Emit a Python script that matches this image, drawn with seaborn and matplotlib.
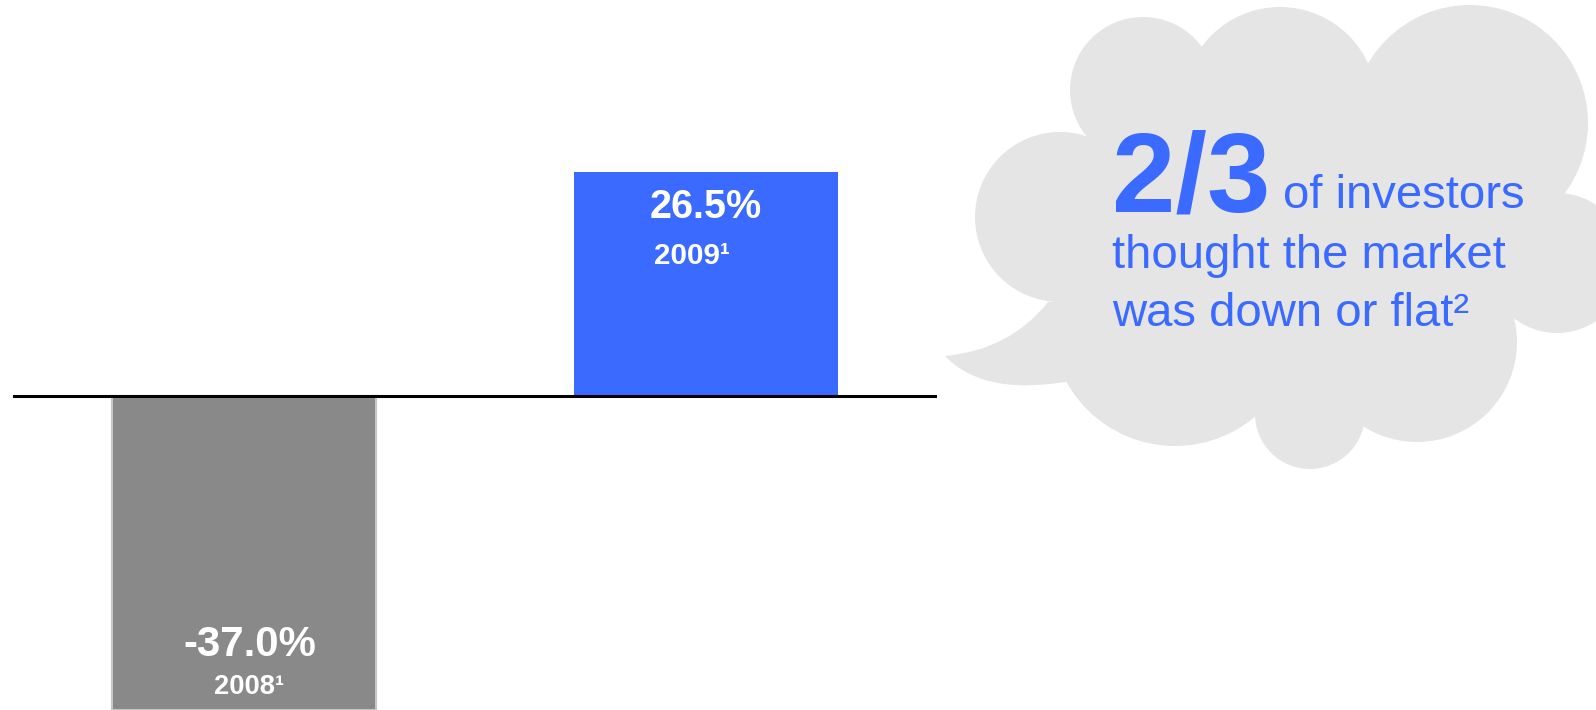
import numpy as np
import pandas as pd
import matplotlib
matplotlib.use("Agg")
import matplotlib.pyplot as plt
import seaborn as sns
from matplotlib import font_manager as fm
from matplotlib.patches import Circle, Polygon, PathPatch
from matplotlib.path import Path

# ---------------- data ----------------
years = ["2008", "2009"]
returns = [-37.0, 26.5]
value_labels = ["-37.0%", "26.5%"]
year_labels = ["2008\u00b9", "2009\u00b9"]
bar_colors = ["#898989", "#3A6AFF"]
callout_big = "2/3"
callout_lines = ["of investors", "thought the market", "was down or flat\u00b2"]


def available(name):
    try:
        fm.findfont(fm.FontProperties(family=name), fallback_to_default=False)
        return True
    except Exception:
        return False


HAS_NARROW = available("Liberation Sans Narrow")
NARROW = "Liberation Sans Narrow" if HAS_NARROW else "Liberation Sans"
NS = 1.0 if HAS_NARROW else 0.89
REG = "Liberation Sans" if available("Liberation Sans") else "DejaVu Sans"

sns.set_theme(style="white")
plt.rcParams["font.family"] = [REG, "DejaVu Sans"]

W, H = 1596, 710
fig = plt.figure(figsize=(W / 100, H / 100), dpi=100)
fig.patch.set_facecolor("white")

BLUE = bar_colors[1]

# ---------------- cloud callout (pixel coordinates overlay) ----------------
ax_c = fig.add_axes([0, 0, 1, 1], zorder=0)
ax_c.set_xlim(0, W)
ax_c.set_ylim(H, 0)
ax_c.axis("off")
cloud = "#E5E5E5"
bumps = [(1060, 217, 85), (1143, 90, 73), (1280, 104, 97), (1470, 123, 118),
         (1557, 263, 70), (1417, 342, 100), (1310, 414, 55), (1175, 322, 124)]
for cx, cy, r in bumps:
    ax_c.add_patch(Circle((cx, cy), r, fc=cloud, ec="none"))
ax_c.add_patch(Polygon([(b[0], b[1]) for b in bumps], closed=True, fc=cloud, ec="none"))
tail = Path([(1048, 302), (1010, 350), (945, 356), (985, 398), (1077, 380),
             (1110, 300), (1048, 302)],
            [Path.MOVETO, Path.CURVE3, Path.CURVE3, Path.CURVE3, Path.CURVE3,
             Path.LINETO, Path.CLOSEPOLY])
ax_c.add_patch(PathPatch(tail, fc=cloud, ec="none"))

ax_c.text(1112, 212, callout_big, fontsize=82, fontweight="bold", color=BLUE,
          ha="left", va="baseline", family=[REG, "DejaVu Sans"])
ax_c.text(1283, 208, callout_lines[0], fontsize=34, color=BLUE,
          ha="left", va="baseline", family=[REG, "DejaVu Sans"])
ax_c.text(1112, 268, callout_lines[1], fontsize=34, color=BLUE,
          ha="left", va="baseline", family=[REG, "DejaVu Sans"])
ax_c.text(1112, 326, callout_lines[2], fontsize=34, color=BLUE,
          ha="left", va="baseline", family=[REG, "DejaVu Sans"])

# ---------------- bars ----------------
ax = fig.add_axes([13 / W, 0, 924 / W, 1], zorder=1)
ax.patch.set_alpha(0)
df = pd.DataFrame({"year": years, "ret": returns})
sns.barplot(data=df, x="year", y="ret", hue="year", palette=bar_colors,
            width=0.572, saturation=1, legend=False, ax=ax)
ax.set_xlim(-0.5, 1.5)
ax.set_ylim(-37, 46.76)
ax.axis("off")
ax.axhline(0, color="black", lw=2.2, zorder=4)

for cont in ax.containers:
    for p in cont.patches:
        if p.get_height() < 0:
            p.set_edgecolor("#C6C6C6")
            p.set_linewidth(1.5)
        else:
            p.set_edgecolor("none")

for i, (v, vl, yl) in enumerate(zip(returns, value_labels, year_labels)):
    if v >= 0:
        ax.text(i, v - 5.42, vl, ha="center", va="baseline", color="white",
                fontsize=32 * NS, fontweight="bold", family=[NARROW, "DejaVu Sans"], zorder=5)
        ax.text(i - 0.03, v - 10.83, yl, ha="center", va="baseline", color="white",
                fontsize=24 * NS, fontweight="bold", family=[NARROW, "DejaVu Sans"], zorder=5)
    else:
        ax.text(i + 0.013, v + 6.38, vl, ha="center", va="baseline", color="white",
                fontsize=34 * NS, fontweight="bold", family=[NARROW, "DejaVu Sans"], zorder=5)
        ax.text(i + 0.01, v + 1.9, yl, ha="center", va="baseline", color="white",
                fontsize=22 * NS, fontweight="bold", family=[NARROW, "DejaVu Sans"], zorder=5)

fig.savefig("out.png", dpi=100, facecolor="white")
